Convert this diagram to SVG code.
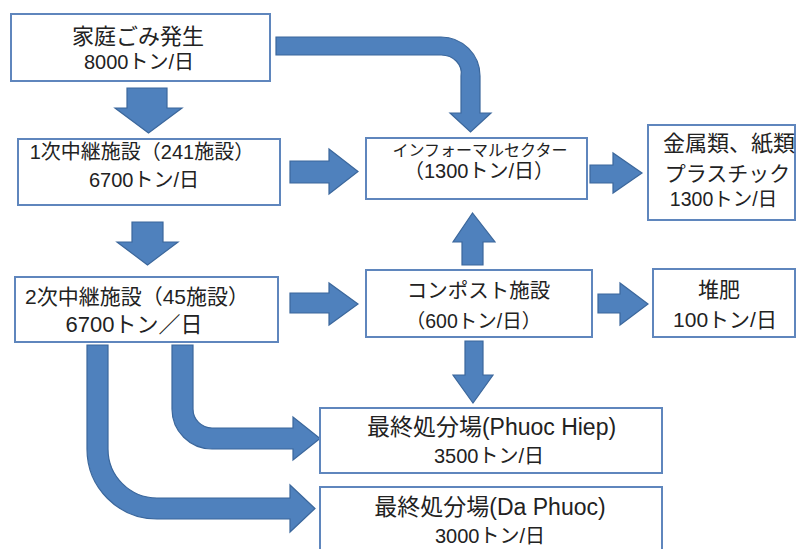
<svg xmlns="http://www.w3.org/2000/svg" width="797" height="549" viewBox="0 0 797 549">
<style>
.box{fill:#fff;stroke:#5f86bd;stroke-width:2}
.arr{fill:#4f81bd;stroke:#3b679c;stroke-width:1.2;stroke-linejoin:miter}
text{font-family:"Liberation Sans","Noto Sans CJK JP",sans-serif;fill:#222;text-anchor:middle;font-size:20px}
</style>
<rect width="797" height="549" fill="#fff"/>
<g id="connectors">
<path class="arr" d="M276,37 L441,37 A39,39 0 0 1 480,76 L480,113 L491,113 L470.5,132 L450,113 L461,113 L461,76 A20,18 0 0 0 441,55 L276,55 Z"/>
<path class="arr" d="M127,88 L167,88 L167,108 L182,108 L148.5,133 L115,108 L127,108 Z"/>
<path class="arr" d="M132,222 L163,222 L163,242 L178,242 L147.5,265 L117,242 L132,242 Z"/>
<path class="arr" d="M290,161 L329,161 L329,149 L358,171.5 L329,194 L329,183 L290,183 Z"/>
<path class="arr" d="M290,293 L329,293 L329,283 L358,304 L329,325 L329,313 L290,313 Z"/>
<path class="arr" d="M590,165 L613,165 L613,153 L642,173 L613,193 L613,183 L590,183 Z"/>
<path class="arr" d="M598,294 L620,294 L620,283 L648,304 L620,325 L620,313 L598,313 Z"/>
<path class="arr" d="M462,265 L483,265 L483,242 L495,242 L472.5,213 L453,242 L462,242 Z"/>
<path class="arr" d="M465,341 L483,341 L483,375 L493,375 L473,403 L453,375 L465,375 Z"/>
<path class="arr" d="M172,345 L172,409 A40,40 0 0 0 212,449 L293,449 L293,460 L320,438.5 L293,417 L293,428 L212,428 A19,19 0 0 1 193,409 L193,345 Z"/>
<path class="arr" d="M87,345 L87,449 A70,70 0 0 0 157,519 L290,519 L290,532 L315,508.5 L290,485 L290,498 L157,498 A49,49 0 0 1 108,449 L108,345 Z"/>
</g>
<g id="n1"><rect class="box" x="11" y="14" width="259" height="67"/><text x="138" y="44" style="font-size:22px">家庭ごみ発生</text><text x="139" y="69">8000トン/日</text></g>
<g id="n2"><rect class="box" x="18" y="139" width="262" height="66"/><text x="142" y="159">1次中継施設（241施設）</text><text x="144" y="187">6700トン/日</text></g>
<g id="n3"><rect class="box" x="15" y="277" width="263" height="65"/><text x="137" y="304" style="font-size:21px">2次中継施設（45施設）</text><text x="134" y="332" style="font-size:22px">6700トン／日</text></g>
<g id="n4"><rect class="box" x="366" y="138" width="221" height="61"/><text x="480" y="156" style="font-size:16px">インフォーマルセクター</text><text x="479" y="178">（1300トン/日）</text></g>
<g id="n5"><rect class="box" x="648" y="125" width="147" height="95"/><text x="729" y="151" style="font-size:22px">金属類、紙類</text><text x="727.5" y="181" style="font-size:21px">プラスチック</text><text x="723.5" y="206" style="font-size:19.5px">1300トン/日</text></g>
<g id="n6"><rect class="box" x="366" y="270" width="226" height="67"/><text x="478.5" y="298" style="font-size:20.5px">コンポスト施設</text><text x="473.5" y="328" style="font-size:19.5px">（600トン/日）</text></g>
<g id="n7"><rect class="box" x="653" y="269" width="142" height="68"/><text x="719" y="297" style="font-size:21px">堆肥</text><text x="725" y="327" style="font-size:21px">100トン/日</text></g>
<g id="n8"><rect class="box" x="320" y="408" width="342" height="65"/><text x="491.5" y="435" style="font-size:23px">最終処分場(Phuoc Hiep)</text><text x="489" y="463">3500トン/日</text></g>
<g id="n9"><rect class="box" x="320" y="487" width="342" height="66"/><text x="490" y="515" style="font-size:23px">最終処分場(Da Phuoc)</text><text x="490" y="543">3000トン/日</text></g>
</svg>
